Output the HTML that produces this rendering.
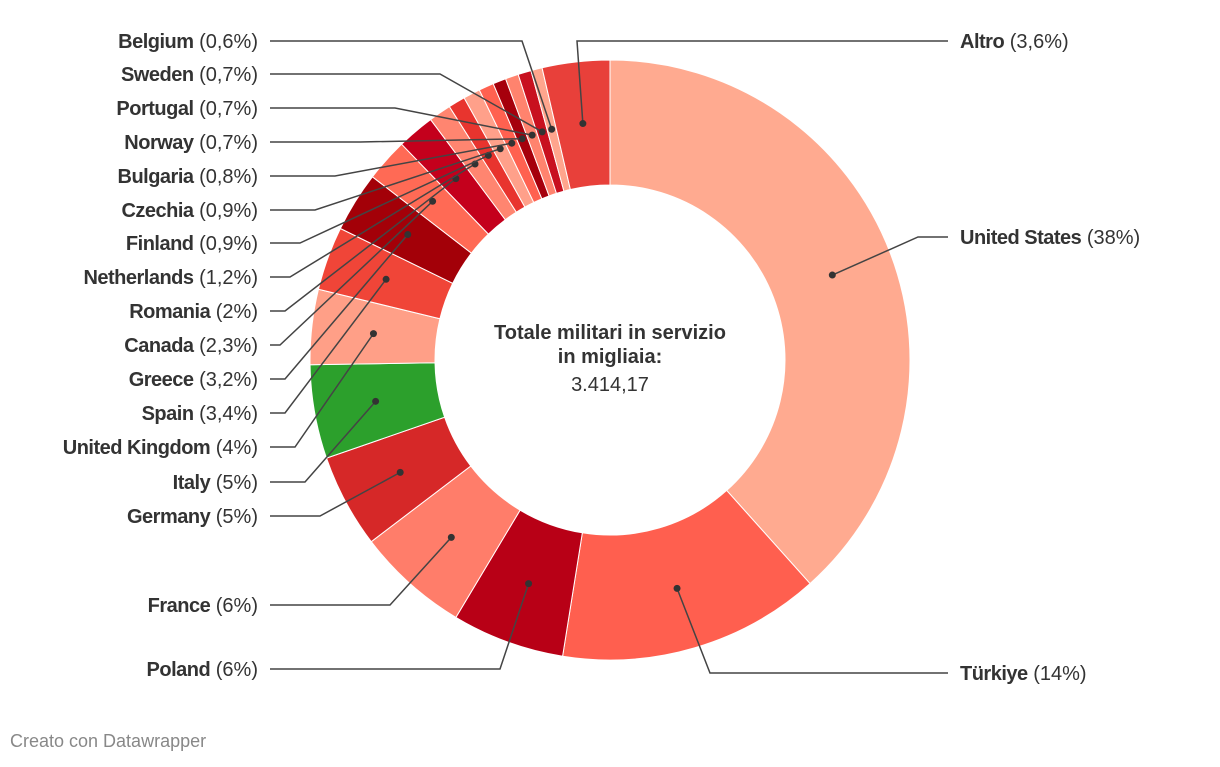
<!DOCTYPE html>
<html><head><meta charset="utf-8"><style>
body{margin:0;background:#fff;width:1220px;height:762px;overflow:hidden;font-family:"Liberation Sans",Arial,sans-serif}
svg text{font-family:"Liberation Sans",Arial,sans-serif}
</style></head><body>
<svg id="chart" width="1220" height="762" viewBox="0 0 1220 762">
<g id="slices"></g>
<g id="leaders"></g>
<g id="labels"></g>
<text x="610" y="339" text-anchor="middle" font-size="20" font-weight="bold" fill="#333">Totale militari in servizio</text>
<text x="610" y="363" text-anchor="middle" font-size="20" font-weight="bold" fill="#333">in migliaia:</text>
<text x="610" y="391" text-anchor="middle" font-size="20" fill="#333">3.414,17</text>
<text x="10" y="747" font-size="18" fill="#888">Creato con Datawrapper</text>
</svg>
<script>
const categories=["United States","Türkiye","Poland","France","Germany","Italy","United Kingdom","Spain","Greece","Canada","Romania","Netherlands","Finland","Czechia","Bulgaria","Norway","Portugal","Sweden","Belgium","Altro"];
const values=[38,14,6,6,5,5,4,3.4,3.2,2.3,2,1.2,0.9,0.9,0.8,0.7,0.7,0.7,0.6,3.6];
const pctLabels=["38%","14%","6%","6%","5%","5%","4%","3,4%","3,2%","2,3%","2%","1,2%","0,9%","0,9%","0,8%","0,7%","0,7%","0,7%","0,6%","3,6%"];
const colors=["#ffaa90","#ff5f4f","#b80016","#ff7d6a","#d62828","#2ca02c","#ff9f87","#f04538","#a30008","#ff6a55","#c4001c","#ff8570","#e8342e","#ffa08a","#ff6150","#a6000c","#ff836e","#c8101f","#ffa58d","#e8403a"];
// layout: label [x, y, side], elbow x
const layout=[[960,237,"r",918],[960,673,"r",710],[258,669,"l",500],[258,605,"l",390],[258,516,"l",320],[258,482,"l",305],[258,447,"l",295],[258,413,"l",285],[258,379,"l",285],[258,345,"l",280],[258,311,"l",285],[258,277,"l",290],[258,243,"l",300],[258,210,"l",315],[258,176,"l",335],[258,142,"l",360],[258,108,"l",395],[258,74,"l",440],[258,41,"l",522],[960,41,"r",577]];
const cx=610,cy=360,R=300,r0=175,rd=238;
const ns="http://www.w3.org/2000/svg";
const total=values.reduce((a,b)=>a+b,0);
function pt(a,rr){return [cx+rr*Math.sin(a),cy-rr*Math.cos(a)];}
let acc=0;
const gS=document.getElementById('slices'),gL=document.getElementById('leaders'),gT=document.getElementById('labels');
values.forEach((v,i)=>{
 const a0=acc/total*2*Math.PI; acc+=v; const a1=acc/total*2*Math.PI;
 const big=(a1-a0)>Math.PI?1:0;
 const p1=pt(a0,R),p2=pt(a1,R),p3=pt(a1,r0),p4=pt(a0,r0);
 const p=document.createElementNS(ns,'path');
 p.setAttribute('d',`M${p1}A${R},${R} 0 ${big} 1 ${p2}L${p3}A${r0},${r0} 0 ${big} 0 ${p4}Z`);
 p.setAttribute('fill',colors[i]);p.setAttribute('stroke','#fff');p.setAttribute('stroke-width','1');
 
 
 gS.appendChild(p);
 const am=(a0+a1)/2,d=pt(am,rd);
 const [lx,ly,side,ex]=layout[i];
 const sx=side==="l"?270:948;
 const pl=document.createElementNS(ns,'polyline');
 pl.setAttribute('points',`${sx},${ly} ${ex},${ly} ${d[0]},${d[1]}`);
 pl.setAttribute('fill','none');pl.setAttribute('stroke','#444');pl.setAttribute('stroke-width','1.5');
 
 
 gL.appendChild(pl);
 const c=document.createElementNS(ns,'circle');
 c.setAttribute('cx',d[0]);c.setAttribute('cy',d[1]);c.setAttribute('r','3.5');c.setAttribute('fill','#333');
 
 
 gL.appendChild(c);
 const t=document.createElementNS(ns,'text');
 t.setAttribute('x',lx);t.setAttribute('y',ly+7);t.setAttribute('font-size','20');t.setAttribute('fill','#333');
 t.setAttribute('text-anchor',side==="l"?"end":"start");
 
 
 t.innerHTML=`<tspan font-weight="bold" letter-spacing="-0.5">${categories[i]}</tspan> (${pctLabels[i]})`;
 gT.appendChild(t);
});
</script>
</body></html>
